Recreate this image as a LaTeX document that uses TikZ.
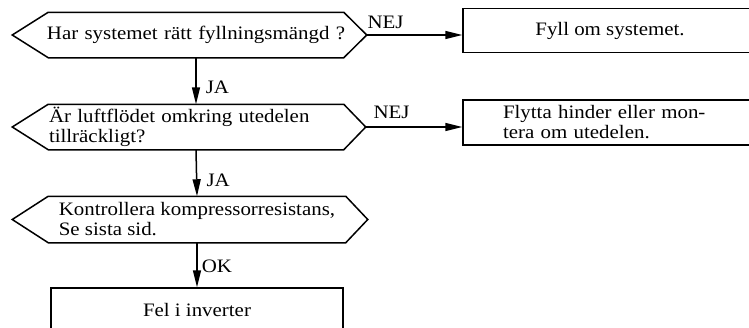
\documentclass[tikz,border=0pt]{standalone}
\usepackage{fontspec}
\setmainfont{Liberation Serif}[FakeStretch=1.1]
\usetikzlibrary{arrows.meta,calc}

\begin{document}
\begin{tikzpicture}[x=1pt, y=-1pt, line width=1.5pt,
  txt/.style={font=\fontsize{19}{20}\selectfont},
  qbody/.style={txt, minimum width=294pt, minimum height=44pt, inner sep=0pt},
  abox/.style={txt, draw, minimum width=294pt, minimum height=44pt, inner sep=0pt},
  arr/.style={-{Triangle[length=17pt,width=8pt]}},
  lbl/.style={txt, inner sep=0pt, anchor=base west},
]
\clip (0,0) rectangle (749,327);
% question hexagons
\node[qbody, text width=300pt, inner xsep=-3pt, align=center] (q1) at (196,35) {Har systemet rätt fyllningsmängd ?};
\node[qbody, text width=294pt, align=left] (q2) at (196,127) {Är luftflödet omkring utedelen\\tillräckligt?};
\node[qbody, minimum width=296pt, minimum height=45pt, align=left] (q3) at (197,219.5) {Kontrollera kompressorresistans,\\Se sista sid.};
\coordinate (q1l) at ([xshift=-36pt]q1.west);
\coordinate (q1r) at ([xshift=23pt]q1.east);
\coordinate (q2l) at ([xshift=-36pt]q2.west);
\coordinate (q2r) at ([xshift=22pt]q2.east);
\coordinate (q3l) at ([xshift=-36pt]q3.west);
\coordinate (q3r) at ([xshift=22pt]q3.east);
\draw (q1.north west) -- (q1.north east) -- (q1r) -- (q1.south east) -- (q1.south west) -- (q1l) -- cycle;
\draw (q2.north west) -- (q2.north east) -- (q2r) -- (q2.south east) -- (q2.south west) -- (q2l) -- cycle;
\draw (q3.north west) -- (q3.north east) -- (q3r) -- (q3.south east) -- (q3.south west) -- (q3l) -- cycle;
% action boxes
\node[abox] (a1) at (610,30.5) {Fyll om systemet.};
\node[abox, minimum height=45pt, inner xsep=40pt, text width=214pt, align=left] (a2) at (610,122.5) {Flytta hinder eller mon-\\tera om utedelen.};
\node[abox, minimum width=292pt] (f1) at (197,310) {Fel i inverter};
% connectors
\draw[arr] (q1.south) -- node[lbl, pos=0.77, xshift=9pt] {JA} (q2.north);
\draw[arr] (q2.south) -- node[lbl, pos=0.79, xshift=9pt] {JA} (q3.north);
\draw[arr] (q3.south) -- node[lbl, pos=0.67, xshift=4pt] {OK} (f1.north);
\draw[arr] (q1r) -- node[lbl, pos=0, yshift=6.5pt] {NEJ} (q1r -| a1.west);
\draw[arr] (q2r) -- node[lbl, pos=0, xshift=7pt, yshift=9pt] {NEJ} (q2r -| a2.west);
\end{tikzpicture}
\end{document}
